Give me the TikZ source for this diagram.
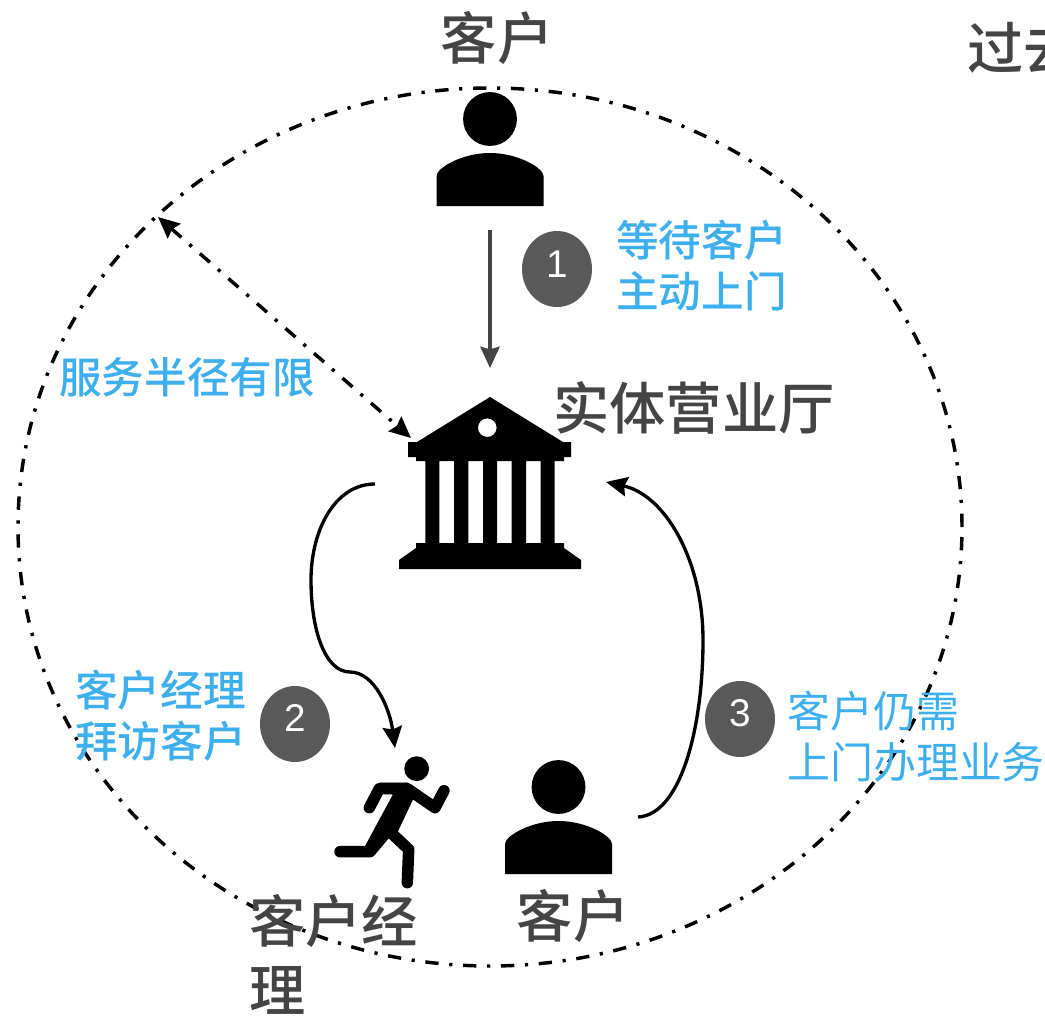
\documentclass[tikz,border=0pt]{standalone}
\usepackage{fontspec}
\setmainfont{Noto Sans CJK SC}
\newfontfamily\heavycjk{Noto Sans CJK SC Medium}
\newfontfamily\numfont{Liberation Sans}
\usetikzlibrary{arrows.meta,shapes.geometric}
\definecolor{txtgray}{HTML}{444444}
\definecolor{txtblue}{HTML}{3DAEEE}
\definecolor{badgegray}{HTML}{595959}
\tikzset{
  x=0.75pt,y=-0.75pt,
  bigtext/.style={text=txtgray,inner sep=0pt,align=left,font=\heavycjk\fontsize{42.2}{50}\selectfont},
  bluetext/.style={text=txtblue,inner sep=0pt,align=left,font=\heavycjk\fontsize{32}{38.25}\selectfont},
  lightblue/.style={text=txtblue,inner sep=0pt,align=left,font=\fontsize{32.2}{38.25}\selectfont},
  badge/.style={fill=badgegray,draw=none,ellipse,minimum width=52.5pt,minimum height=57pt,inner sep=0pt},
  badgenum/.style={text=white,inner sep=0pt,font=\numfont\fontsize{29}{29}\selectfont},
  dashdotline/.style={line width=2.6pt,dash pattern=on 10pt off 8pt on 2.4pt off 8pt},
  solidarrow/.style={line width=2.5pt,-{Stealth[length=16pt,width=14.5pt,inset=2pt]}},
  person/.pic={
    \fill[black] (0,27) circle[radius=20.2pt];
    \fill[black] (-53.5,114) -- (-53.5,84) .. controls (-53.5,76) and (-28,61) .. (0,61)
      .. controls (28,61) and (53.5,76) .. (53.5,84) -- (53.5,114) -- cycle;
  },
}
\begin{document}
\begin{tikzpicture}
\useasboundingbox (0,0) rectangle (1045,1020);
\clip (0,0) rectangle (1045,1020);
% service radius
\node[draw=black,dashdotline,ellipse,minimum width=708pt,minimum height=658.5pt,inner sep=0pt] (radius) at (490,527) {};
% top customer
\pic at (490,92) {person};
% bank
\begin{scope}[black]
\fill[even odd rule] (490,397) -- (563,442) -- (571,442) -- (571,457) -- (564,457) -- (564,461)
  -- (554.7,461) -- (554.7,543) -- (564,543) -- (564,548) -- (581,560) -- (581,569)
  -- (399,569) -- (399,560) -- (416,548) -- (416,543) -- (425.3,543) -- (425.3,461)
  -- (416,461) -- (416,457) -- (408,457) -- (408,442) -- (417,442) -- cycle
  (439.3,461) rectangle (454,543)
  (468.3,461) rectangle (483,543)
  (497,461) rectangle (511.7,543)
  (526,461) rectangle (540.7,543)
  (487.3,427.7) circle[radius=7pt];
\end{scope}
% runner
\begin{scope}[shift={(320,740)},x=0.25pt,y=-0.25pt]
\fill[black] (290,86) circle[radius=9.3pt];
\fill[black] (178,128) -- (265,128) -- (290,155) -- (235,272) -- (195,285) -- (160,345) -- (135,318) -- (218,165) -- cycle;
\draw[black,line width=8.6pt,line cap=round,line join=round] (148,203) -- (178,146) -- (262,146) -- (345,203) -- (372,152);
\draw[black,line width=8.6pt,line cap=round,line join=round] (60,335) -- (150,335) -- (205,270);
\draw[black,line width=8.6pt,line cap=round,line join=round] (215,280) -- (266,328) -- (262,428);
\end{scope}
% bottom customer
\pic at (558.5,760) {person};
% connector anchors
\coordinate (c1a) at (490,230);
\coordinate (c1b) at (490,368);
\coordinate (c2a) at (158,217);
\coordinate (c2b) at (411,438);
\coordinate (c3a) at (375,484);
\coordinate (c3b) at (395,748);
\coordinate (c4a) at (638,817);
\coordinate (c4b) at (606,482);
\draw[txtgray,solidarrow] (c1a) -- (c1b);
\draw[black,dashdotline,{Stealth[length=16pt,width=14.5pt,inset=2pt]}-{Stealth[length=16pt,width=14.5pt,inset=2pt]}] (c2a) -- (c2b);
\draw[black,solidarrow] (c3a) .. controls (335,484) and (311,530) .. (311,580)
  .. controls (311,630) and (325,672) .. (350,672)
  .. controls (375,672) and (390,710) .. (c3b);
\draw[black,solidarrow] (c4a) .. controls (680,815) and (703,730) .. (703,640)
  .. controls (703,560) and (665,495) .. (c4b);
% badges
\node[badge] (b1) at (557,269) {};
\node[badgenum] (n1) at (557,264) {1};
\node[badge] (b2) at (295,724) {};
\node[badgenum] (n2) at (295,718) {2};
\node[badge] (b3) at (740,719) {};
\node[badgenum] (n3) at (740,713) {3};
% texts
\node[bigtext] (t1) at (497,38) {客户};
\node[bigtext,anchor=west] (t2) at (967,48) {过去};
\node[bigtext,anchor=west] (t3) at (553,408) {实体营业厅};
\node[bigtext,anchor=west] (t4) at (249,921) {客户经};
\node[bigtext,anchor=west] (t5) at (249,990) {理};
\node[bigtext] (t6) at (573,916) {客户};
\node[bluetext,anchor=west] (l1) at (616,266) {等待客户\\主动上门};
\node[bluetext,anchor=west] (l2) at (59,377) {服务半径有限};
\node[bluetext,anchor=west] (l3) at (75,716) {客户经理\\拜访客户};
\node[lightblue,anchor=west] (l4) at (787,737) {客户仍需\\上门办理业务};
\end{tikzpicture}
\end{document}
